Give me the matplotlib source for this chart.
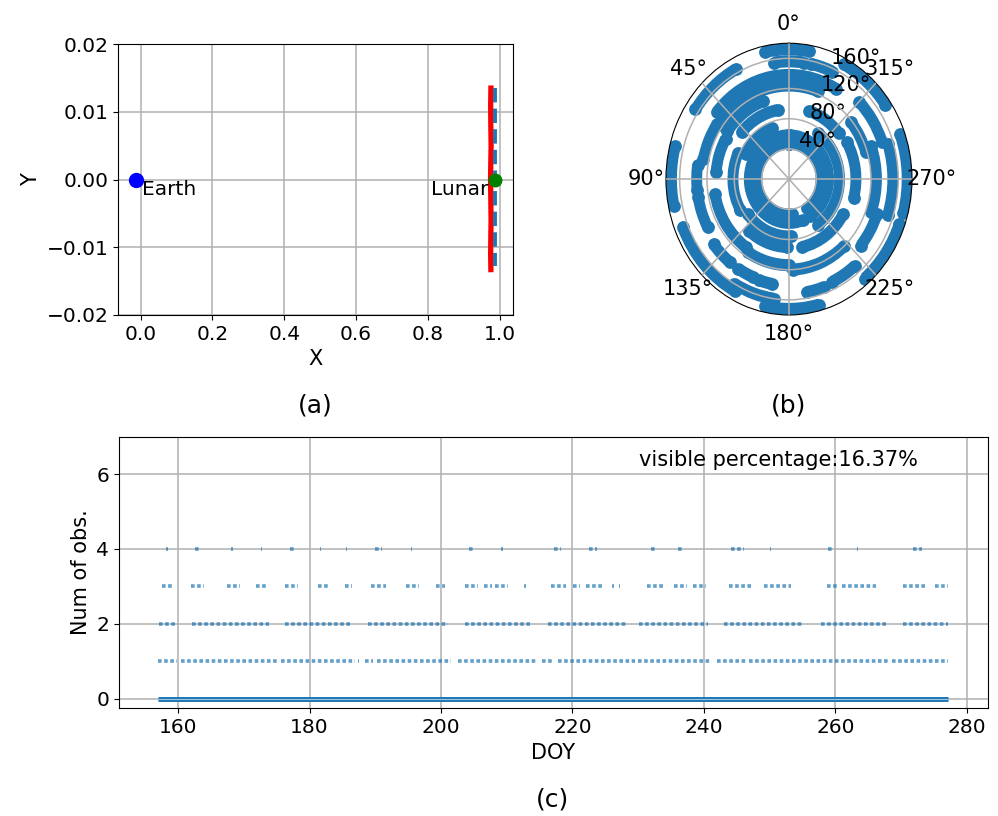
import numpy as np
import matplotlib.pyplot as plt

plt.rcParams['font.size'] = 14.5
C0 = '#1f77b4'

# ---- (a) rotating frame ----
earth_x, earth_y = -0.01215, 0.0
lunar_x, lunar_y = 0.98785, 0.0
orbit_x = [0.9756, 0.9749, 0.9753, 0.9761, 0.9751, 0.9746, 0.9753, 0.9760, 0.9752, 0.9748, 0.9755]
orbit_y = [0.0135, 0.0110, 0.0080, 0.0050, 0.0020, 0.0000, -0.0030, -0.0060, -0.0090, -0.0110, -0.0133]
ref_x = [0.9876, 0.9876]
ref_y = [0.0135, -0.0128]

# ---- (b) sky tracks: radius, start angle, end angle (deg) ----
arc_r = [47, 47, 58, 58, 72, 74, 76,
         93, 95, 82, 98, 92, 90,
         110, 107, 110, 114, 120, 118, 124,
         128, 128, 135, 135, 137, 140, 140, 141, 138, 145,
         152, 152, 150, 156, 156, 160,
         172, 165, 172, 168, 172, 172, 173, 172]
arc_t0 = [0, 215, 0, 212, 20, 215, 128,
          10, 310, 65, 255, 192, 140,
          20, 60, 100, 148, 183, 288, 340,
          250, 55, 82, 100, 230, 128, 148, 162, 330, 290,
          252, 190, 205, 336, 352, 150,
          350, 28, 75, 112, 168, 220, 255, 305]
arc_t1 = [185, 360, 200, 360, 62, 325, 182,
          48, 342, 120, 300, 240, 178,
          55, 85, 145, 180, 222, 310, 55,
          290, 78, 96, 118, 250, 142, 158, 170, 50, 315,
          288, 200, 220, 348, 8, 172,
          12, 56, 102, 152, 195, 250, 290, 332]

# ---- (c) visibility per DOY: (start, end) spans for each count ----
lvl0 = [(157.0, 277.1)]
lvl1 = [(157.0, 159.9), (160.5, 175.0), (175.6, 186.9), (187.4, 187.6), (188.4, 189.7),
        (190.2, 201.6), (202.6, 214.5), (215.3, 217.0), (217.8, 229.5), (230.0, 241.1),
        (242.0, 246.4), (246.9, 268.2), (268.7, 277.1)]
lvl2 = [(157.1, 159.5), (162.1, 173.8), (176.3, 186.2), (188.9, 201.1), (203.6, 213.5),
        (216.3, 228.3), (230.1, 240.7), (243.0, 255.1), (257.9, 268.0), (270.3, 277.1)]
lvl3 = [(157.6, 159.0), (162.0, 164.0), (167.5, 169.4), (171.9, 173.3), (176.3, 178.3),
        (181.3, 182.9), (185.4, 186.4), (189.3, 191.7), (194.7, 196.7), (199.2, 200.6),
        (203.6, 205.7), (206.6, 207.7), (208.2, 210.2), (212.7, 212.9), (216.7, 219.1),
        (220.1, 221.1), (222.0, 224.5), (226.1, 226.3), (227.1, 227.3), (231.4, 233.9),
        (235.4, 237.5), (238.3, 240.4), (243.9, 247.3), (249.2, 253.3), (258.8, 260.5),
        (261.1, 266.2), (270.3, 273.7), (275.2, 277.1)]
lvl4 = [(158.2, 158.4), (162.5, 163.3), (168.1, 168.3), (172.6, 172.8), (177.0, 177.7),
        (181.6, 181.8), (185.5, 185.7), (189.9, 191.1), (195.4, 195.6), (204.3, 205.0),
        (209.2, 209.4), (217.2, 218.3), (222.6, 223.8), (232.0, 232.7), (236.0, 236.7),
        (244.2, 246.1), (250.0, 250.2), (258.9, 259.6), (263.3, 263.5), (271.8, 273.2)]
visible_pct = 16.37

fig = plt.figure(figsize=(9.98, 8.16), dpi=100)

# (a)
ax1 = fig.add_axes([0.1185, 0.614, 0.3958, 0.332])
ax1.plot(orbit_x, orbit_y, color='red', lw=3.8)
ax1.plot(ref_x, ref_y, '--', color=C0, lw=2.8)
ax1.plot(earth_x, earth_y, 'o', color='blue', ms=10)
ax1.plot(lunar_x, lunar_y, 'o', color='green', ms=9)
ax1.text(0.003, 0, 'Earth', va='top', ha='left')
ax1.text(0.968, 0, 'Lunar', va='top', ha='right')
ax1.set_ylim(-0.02, 0.02)
ax1.set_yticks([-0.02, -0.01, 0.0, 0.01, 0.02])
ax1.set_xlabel('X', fontsize=15)
ax1.set_ylabel('Y', fontsize=15)
ax1.grid(True, lw=1.1)

# (b)
ax2 = fig.add_axes([0.6673, 0.614, 0.2465, 0.333], projection='polar')
ax2.set_aspect('auto')
ax2.set_theta_zero_location('N')
ax2.set_theta_direction(1)
for r, t0, t1 in zip(arc_r, arc_t0, arc_t1):
    w = np.deg2rad((t1 - t0) % 360)
    a0 = np.deg2rad(t0)
    ax2.bar(a0 + w / 2, 16, width=w, bottom=r - 8, color=C0, linewidth=0, zorder=2)
    ax2.scatter([a0, a0 + w], [r, r], s=85, color=C0, linewidths=0, zorder=2)
ax2.set_ylim(0, 180)
ax2.set_yticks([40, 80, 120, 160])
ax2.set_yticklabels(['40°', '80°', '120°', '160°'])
ax2.set_rlabel_position(-22.5)
ax2.tick_params(labelsize=15)
ax2.grid(True, lw=1.1, zorder=3)
ax2.set_axisbelow(False)

# (c)
ax3 = fig.add_axes([0.1192, 0.132, 0.8705, 0.333])
s0, e0 = zip(*lvl0)
ax3.hlines([0] * len(s0), s0, e0, colors=C0, lw=3.6)
ax3.hlines([0] * len(s0), s0, e0, colors='#9cc2e0', lw=0.8)
for lev, segs in [(1, lvl1), (2, lvl2), (3, lvl3), (4, lvl4)]:
    s, e = zip(*segs)
    ax3.hlines([lev] * len(s), s, e, colors=C0, lw=2.6, alpha=0.7,
               linestyles=[(0, (1.0, 0.7))])
ax3.set_xlim(151, 283.2)
ax3.set_ylim(-0.25, 7)
ax3.set_xticks([160, 180, 200, 220, 240, 260, 280])
ax3.set_yticks([0, 2, 4, 6])
ax3.text(230.2, 6.37, 'visible percentage:%.2f%%' % visible_pct, va='center', fontsize=15)
ax3.set_xlabel('DOY', fontsize=15)
ax3.set_ylabel('Num of obs.', fontsize=15)
ax3.grid(True, lw=1.1)

fig.text(315 / 998, 1 - 405 / 816, '(a)', ha='center', va='center', fontsize=18)
fig.text(789 / 998, 1 - 405 / 816, '(b)', ha='center', va='center', fontsize=18)
fig.text(553 / 998, 1 - 800 / 816, '(c)', ha='center', va='center', fontsize=18)

fig.savefig('out.png', dpi=100)
